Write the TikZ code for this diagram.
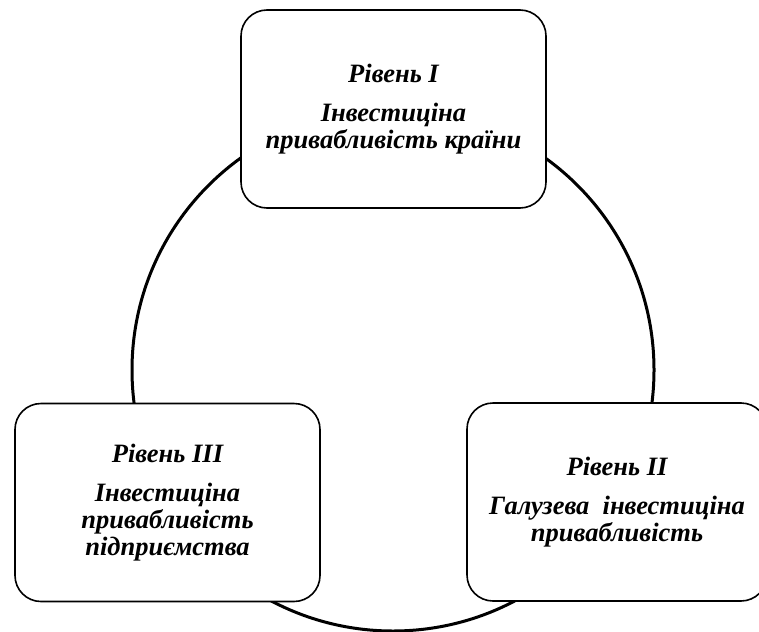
\documentclass[tikz,border=0pt]{standalone}
\usepackage{fontspec}
\setmainfont{Liberation Serif}
\begin{document}
\begin{tikzpicture}[x=1pt,y=-1pt,
  lvlbox/.style={draw=black, line width=1.6pt, fill=white, rounded corners=26pt,
    minimum width=#1, minimum height=198pt, inner sep=0pt, align=center,
    font=\fontsize{26.5}{27}\selectfont\bfseries\itshape},
  ring/.style={draw=black, line width=3pt}]
\useasboundingbox (0,0) rectangle (759,631);
\coordinate (c) at (393,370);
\draw[ring] (c) circle[radius=261pt];
\node[lvlbox=305pt] (b1) at (393.5,109) {Рівень I\\[12pt]Інвестиціна\\привабливість країни};
\node[lvlbox=305pt] (b3) at (167.5,502.5) {Рівень III\\[12pt]Інвестиціна\\привабливість\\підприємства};
\node[lvlbox=300pt] (b2) at (617,502) {Рівень II\\[12pt]Галузева\ \ інвестиціна\\привабливість};
\end{tikzpicture}
\end{document}
